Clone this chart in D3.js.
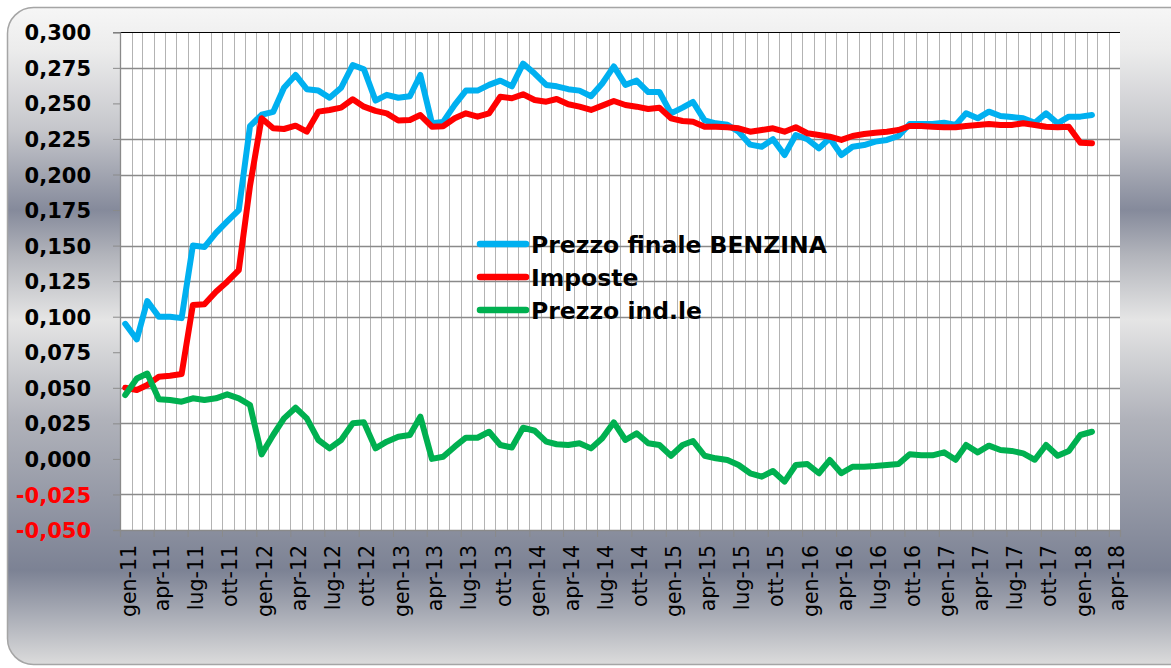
<!DOCTYPE html>
<meta charset="utf-8">
<style>
body { margin: 0; background: #fff; }
svg text { font-family: "DejaVu Sans", Verdana, sans-serif; }
.ylab { font-size: 21px; font-weight: bold; }
.xlab { font-size: 20.5px; fill: #000; }
.legend text { font-size: 23.5px; font-weight: bold; }
</style>
<body></body>
<script src="https://d3js.org/d3.v7.min.js"></script>
<script>
// monthly values, gen-11 .. feb-18 (dated mid-month)
var firstMonth = new Date(2011, 0, 15);

var prezzoFinale = [
  0.095, 0.084, 0.111, 0.100, 0.100, 0.099, 0.150, 0.149, 0.159, 0.167, 0.175, 0.234,
  0.242, 0.244, 0.261, 0.270, 0.260, 0.259, 0.254, 0.261, 0.277, 0.274, 0.252, 0.256,
  0.254, 0.255, 0.270, 0.236, 0.237, 0.249, 0.259, 0.259, 0.263, 0.266, 0.262, 0.278,
  0.271, 0.263, 0.262, 0.260, 0.259, 0.255, 0.264, 0.276, 0.263, 0.266, 0.258, 0.258,
  0.243, 0.247, 0.251, 0.238, 0.236, 0.235, 0.230, 0.221, 0.2195, 0.2248, 0.2137, 0.2278,
  0.2248, 0.2184, 0.2255, 0.2137, 0.2195, 0.2207, 0.2231, 0.2243, 0.2271, 0.2355, 0.2355, 0.2355,
  0.2364, 0.2348, 0.243, 0.2395, 0.2442, 0.2411, 0.2404, 0.2395, 0.2364, 0.243, 0.236, 0.2407,
  0.2407, 0.2418
];

var imposte = [
  0.050, 0.0485, 0.052, 0.0578, 0.0585, 0.0597, 0.1082, 0.1087, 0.1176, 0.1246, 0.1328, 0.192,
  0.2395, 0.2325, 0.232, 0.2343, 0.2301, 0.2442, 0.2454, 0.247, 0.2529, 0.2477, 0.2447, 0.243,
  0.238, 0.2383, 0.2418, 0.2336, 0.234, 0.2395, 0.243, 0.2407, 0.243, 0.2547, 0.2536, 0.2564,
  0.2524, 0.2512, 0.2531, 0.2494, 0.2477, 0.2454, 0.2484, 0.2517, 0.2489, 0.2477, 0.2461, 0.247,
  0.2395, 0.2376, 0.2371, 0.2336, 0.2336, 0.2332, 0.2325, 0.2301, 0.2313, 0.2325, 0.2301, 0.2332,
  0.229, 0.2278, 0.2266, 0.2243, 0.2271, 0.2285, 0.2294, 0.2301, 0.2313, 0.2341, 0.2341, 0.2336,
  0.2332, 0.2332, 0.2341, 0.2348, 0.2355, 0.2348, 0.2348, 0.236, 0.2348, 0.2336, 0.2332, 0.2336,
  0.2224, 0.222
];

var prezzoIndustriale = [
  0.0449, 0.0565, 0.0600, 0.0420, 0.0414, 0.0402, 0.0426, 0.0414, 0.0426, 0.0454, 0.0426, 0.0379,
  0.0032, 0.0168, 0.0285, 0.036, 0.0285, 0.0133, 0.0074, 0.0133, 0.025, 0.0257, 0.0074, 0.0121,
  0.0156, 0.0168, 0.0297, 0.0000, 0.0015, 0.0086, 0.0149, 0.0149, 0.0191, 0.0098, 0.008, 0.0219,
  0.0198, 0.0121, 0.0103, 0.0098, 0.011, 0.0074, 0.0145, 0.0257, 0.0133, 0.018, 0.011, 0.0098,
  0.0022, 0.0098, 0.0126, 0.0022, 0.0004, -0.0008, -0.0043, -0.0101, -0.0125, -0.0085, -0.016, -0.0043,
  -0.0036, -0.0101, -0.0008, -0.0101, -0.0055, -0.0055, -0.005, -0.0043, -0.0036, 0.0032, 0.0025, 0.0025,
  0.0046, -0.0006, 0.0098, 0.0046, 0.0093, 0.0063, 0.0056, 0.0039, -0.0006, 0.0098, 0.0022, 0.0056,
  0.0168, 0.0191
];

var seriesNames = ["Prezzo finale BENZINA", "Imposte", "Prezzo ind.le"];
var seriesColors = ["#00b0f0", "#ff0000", "#00b050"];

var yTicks = [-0.05, -0.025, 0, 0.025, 0.05, 0.075, 0.1, 0.125, 0.15, 0.175, 0.2, 0.225, 0.25, 0.275, 0.3];
// gridlines that show in the source picture
var yGrid = [-0.025, 0.025, 0.05, 0.1, 0.125, 0.15, 0.2, 0.225, 0.275];
var monthNames = ["gen", "feb", "mar", "apr", "mag", "giu", "lug", "ago", "set", "ott", "nov", "dic"];

var W = 1171, H = 668;
var plot = { left: 120, right: 1120, top: 32.3, bottom: 530 };

var svg = d3.select("body").append("svg")
    .attr("width", W)
    .attr("height", H);

var defs = svg.append("defs");
var grad = defs.append("linearGradient")
    .attr("id", "chrome")
    .attr("gradientUnits", "userSpaceOnUse")
    .attr("x1", 0).attr("y1", 8).attr("x2", 0).attr("y2", 665);
[[8, "#f6f6f6"], [50, "#ececec"], [130, "#c5c6cb"], [210, "#858a9b"], [255, "#b2b4bb"],
 [320, "#e5e5e5"], [420, "#b0b2ba"], [570, "#7c8294"], [665, "#dcdcdc"]].forEach(function(s) {
  grad.append("stop")
    .attr("offset", ((s[0] - 8) / 657 * 100) + "%")
    .attr("stop-color", s[1]);
});

svg.append("rect")
    .attr("x", 7.5).attr("y", 7.5)
    .attr("width", 1200).attr("height", 657)
    .attr("rx", 26).attr("ry", 26)
    .style("fill", "url(#chrome)")
    .style("stroke", "#a5a5a5")
    .style("stroke-width", 1.5);

var x = d3.scaleTime()
  .domain([new Date(2011, 0, 1), new Date(2018, 4, 1)])
  .range([plot.left, plot.right]);

var y = d3.scaleLinear()
  .domain([-0.05, 0.3])
  .range([plot.bottom, plot.top]);

svg.append("rect")
    .attr("x", plot.left).attr("y", plot.top)
    .attr("width", plot.right - plot.left)
    .attr("height", plot.bottom - plot.top)
    .style("fill", "#fff");

// monthly vertical gridlines
var months = d3.timeMonth.range(new Date(2011, 1, 1), new Date(2018, 4, 1));
svg.append("g").selectAll("line")
  .data(months)
  .enter().append("line")
    .attr("x1", function(d) { return Math.round(x(d)) + 0.5; })
    .attr("x2", function(d) { return Math.round(x(d)) + 0.5; })
    .attr("y1", plot.top)
    .attr("y2", plot.bottom)
    .style("stroke", "#b3b3b3")
    .style("stroke-width", 1);

// horizontal gridlines
svg.append("g").selectAll("line")
  .data(yGrid)
  .enter().append("line")
    .attr("x1", plot.left)
    .attr("x2", plot.right)
    .attr("y1", function(d) { return Math.round(y(d)) + 0.5; })
    .attr("y2", function(d) { return Math.round(y(d)) + 0.5; })
    .style("stroke", "#8a8a8a")
    .style("stroke-width", 1.3);

// top border
svg.append("line")
    .attr("x1", plot.left - 7).attr("x2", plot.right)
    .attr("y1", Math.round(plot.top) + 0.5).attr("y2", Math.round(plot.top) + 0.5)
    .style("stroke", "#000").style("stroke-width", 1);

// y axis
var yAxis = d3.axisLeft(y)
  .tickValues(yTicks)
  .tickSize(7)
  .tickFormat(function(d) { return d3.format(".3f")(d).replace(".", ",").replace("−", "-"); });

var gy = svg.append("g")
    .attr("transform", "translate(" + plot.left + ",0)")
    .call(yAxis);
gy.select(".domain").style("stroke", "#8a8a8a").style("stroke-width", 1.3);
gy.selectAll(".tick line").style("stroke", "#8a8a8a");
gy.selectAll(".tick text")
    .attr("class", "ylab")
    .attr("x", -29)
    .attr("dy", "0.36em")
    .style("font-family", "'DejaVu Sans', Verdana, sans-serif")
    .style("fill", function(d) { return d < 0 ? "#ff0000" : "#000"; });

// x axis
var quarters = d3.timeMonth.every(3).range(new Date(2011, 0, 1), new Date(2018, 4, 1));
var xAxis = d3.axisBottom(x)
  .tickValues(quarters)
  .tickSize(7)
  .tickFormat(function(d) {
    return monthNames[d.getMonth()] + "-" + String(d.getFullYear()).slice(2);
  });

var gx = svg.append("g")
    .attr("transform", "translate(0," + plot.bottom + ")")
    .call(xAxis);
gx.select(".domain").style("stroke", "#8a8a8a").style("stroke-width", 1.3);
gx.selectAll(".tick line").style("stroke", "#8a8a8a");
gx.selectAll(".tick text")
    .attr("class", "xlab")
    .attr("y", 0)
    .attr("dy", 0)
    .attr("text-anchor", "end")
    .attr("transform", "translate(15,15) rotate(-90)")
    .style("font-family", "'DejaVu Sans', Verdana, sans-serif");

// series
var series = [prezzoFinale, imposte, prezzoIndustriale];
var line = d3.line()
  .x(function(d, i) { return x(d3.timeMonth.offset(firstMonth, i)); })
  .y(function(d) { return y(d); });

svg.append("g").selectAll("path")
  .data(series)
  .enter().append("path")
    .attr("d", line)
    .style("fill", "none")
    .style("stroke", function(d, i) { return seriesColors[i]; })
    .style("stroke-width", 6)
    .style("stroke-linejoin", "round")
    .style("stroke-linecap", "round");

// legend
var legend = svg.append("g")
    .attr("class", "legend")
    .attr("transform", "translate(478,244)");

var item = legend.selectAll("g")
  .data(seriesNames)
  .enter().append("g")
    .attr("transform", function(d, i) { return "translate(0," + (i * 33) + ")"; });

item.append("line")
    .attr("x1", 2).attr("x2", 48)
    .attr("y1", 0).attr("y2", 0)
    .style("stroke", function(d, i) { return seriesColors[i]; })
    .style("stroke-width", 6.5)
    .style("stroke-linecap", "round");

item.append("text")
    .attr("x", 53)
    .attr("y", 8.5)
    .text(function(d) { return d; });
</script>
